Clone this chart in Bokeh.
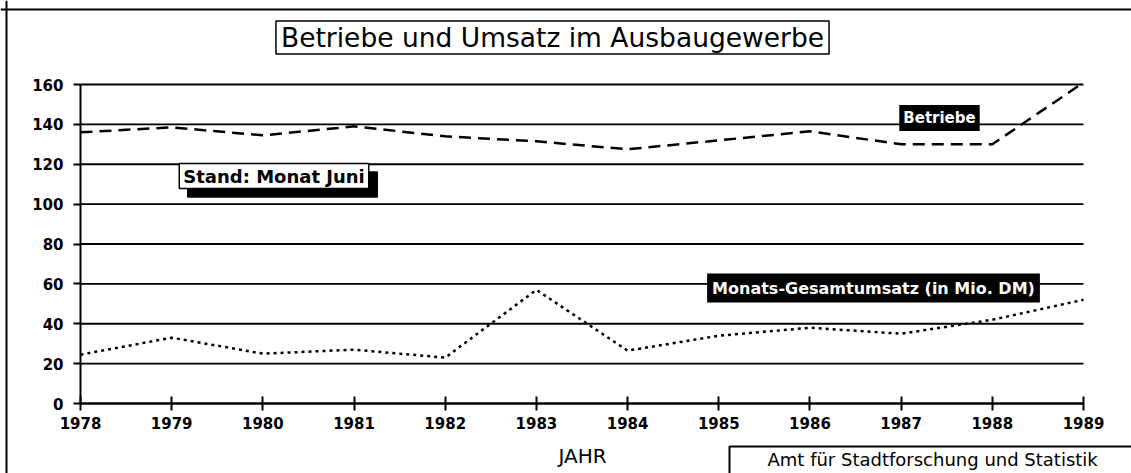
from bokeh.plotting import figure
from bokeh.models import Label, FixedTicker, Range1d, Span
from bokeh.embed import file_html
from bokeh.resources import INLINE

# ---- data ----
years = [1978, 1979, 1980, 1981, 1982, 1983, 1984, 1985, 1986, 1987, 1988, 1989]
betriebe = [136, 138.5, 134.5, 139, 134, 131.5, 127.5, 132, 136.5, 130, 130, 161]
umsatz = [24.5, 33, 25, 27, 23, 57, 26.5, 34, 38, 35, 42, 52]
y_ticks = [0, 20, 40, 60, 80, 100, 120, 140, 160]

title_text = "Betriebe und Umsatz im Ausbaugewerbe"
x_label = "JAHR"
note_text = "Stand: Monat Juni"
label_betriebe = "Betriebe"
label_umsatz = "Monats-Gesamtumsatz (in Mio. DM)"
source_text = "Amt für Stadtforschung und Statistik"

FONT = "DejaVu Sans"

# ---- layout (pixels of the canvas) ----
W, H = 1131, 473
AX_LEFT, AX_RIGHT = 80, 1083      # pixel columns of first / last year
AX_BOTTOM, AX_TOP = 403, 84       # pixel rows of 0 / 160
y_min, y_max = y_ticks[0], y_ticks[-1]
kx = (AX_RIGHT - AX_LEFT) / (years[-1] - years[0])
ky = (AX_BOTTOM - AX_TOP) / (y_max - y_min)
x_start = years[0] - AX_LEFT / kx
x_end = years[-1] + (W - AX_RIGHT) / kx
y_start = y_min - (H - AX_BOTTOM) / ky
y_end = y_max + AX_TOP / ky


def px(x):
    return x_start + x / kx


def py(y):
    return y_end - y / ky


p = figure(width=W, height=H,
           x_range=Range1d(x_start, x_end), y_range=Range1d(y_start, y_end),
           output_backend="svg", toolbar_location=None, min_border=0)
p.outline_line_color = None
p.background_fill_color = "white"
p.border_fill_color = "white"
p.xgrid.visible = False
p.ygrid.visible = False

# axes placed at the data origin
xa = p.xaxis[0]
xa.fixed_location = y_min
xa.bounds = (years[0], years[-1])
xa.ticker = FixedTicker(ticks=years)
xa.minor_tick_line_color = None
xa.major_tick_in = 7
xa.major_tick_out = 7
xa.major_tick_line_width = 2
xa.major_tick_line_color = "black"
xa.axis_line_width = 2
xa.axis_line_color = "black"
xa.major_label_text_font = FONT
xa.major_label_text_font_style = "bold"
xa.major_label_text_font_size = "15px"
xa.major_label_text_color = "black"
xa.major_label_standoff = 6

ya = p.yaxis[0]
ya.fixed_location = years[0]
ya.bounds = (y_min, y_max)
ya.ticker = FixedTicker(ticks=y_ticks)
ya.minor_tick_line_color = None
ya.major_tick_in = 0
ya.major_tick_out = 7
ya.major_tick_line_width = 2
ya.major_tick_line_color = "black"
ya.axis_line_width = 2
ya.axis_line_color = "black"
ya.major_label_text_font = FONT
ya.major_label_text_font_style = "bold"
ya.major_label_text_font_size = "15px"
ya.major_label_text_color = "black"
ya.major_label_standoff = 10

# horizontal grid lines spanning the year range
n = len(y_ticks)
p.segment(x0=[years[0]] * n, x1=[years[-1]] * n, y0=y_ticks, y1=y_ticks,
          line_color="black", line_width=1.8)

# series
p.line(years, betriebe, line_color="black", line_width=2.5, line_dash="12 7")
p.line(years, umsatz, line_color="black", line_width=2.5, line_dash="3 4")

# outer frame (top and left edges)
p.add_layout(Span(location=py(9), dimension="width", line_color="black", line_width=2))
p.add_layout(Span(location=px(6), dimension="height", line_color="black", line_width=2))

# title box
p.add_layout(Label(x=px(552), y=py(37), text=title_text,
                   text_font=FONT, text_font_size="26.5px",
                   text_align="center", text_baseline="middle", text_color="black",
                   background_fill_color="white",
                   border_line_color="black", border_line_width=1.5,
                   padding=dict(left=5, right=5, top=1, bottom=1)))

# note with drop shadow
for shadow in (True, False):
    p.add_layout(Label(x=px(273.5), y=py(175.5), text=note_text,
                       x_offset=8.5 if shadow else 0, y_offset=-8.5 if shadow else 0,
                       text_font=FONT, text_font_style="bold", text_font_size="18px",
                       text_align="center", text_baseline="middle",
                       text_color="black",
                       background_fill_color="black" if shadow else "white",
                       border_line_color="black", border_line_width=1.5,
                       padding=dict(left=4, right=4, top=2, bottom=2)))

# series labels (white on black)
p.add_layout(Label(x=px(939), y=py(117.5), text=label_betriebe,
                   text_font=FONT, text_font_style="bold", text_font_size="15px",
                   text_align="center", text_baseline="middle", text_color="white",
                   background_fill_color="black",
                   padding=dict(left=4, right=4, top=4, bottom=4)))
p.add_layout(Label(x=px(873), y=py(287.5), text=label_umsatz,
                   text_font=FONT, text_font_style="bold", text_font_size="16px",
                   text_align="center", text_baseline="middle", text_color="white",
                   background_fill_color="black",
                   padding=dict(left=5, right=5, top=5, bottom=5)))

# x axis title
p.add_layout(Label(x=px(582), y=py(455), text=x_label,
                   text_font=FONT, text_font_size="20px",
                   text_align="center", text_baseline="middle", text_color="black"))

# source box: open to the right and bottom edges of the picture
p.add_layout(Label(x=px(729), y=py(446), text=source_text,
                   text_font=FONT, text_font_size="18px",
                   text_align="left", text_baseline="top", text_color="black",
                   background_fill_color="white",
                   border_line_color="black", border_line_width=2,
                   padding=dict(left=38, right=120, top=2, bottom=60)))

open("out.html", "w").write(file_html(p, INLINE))
